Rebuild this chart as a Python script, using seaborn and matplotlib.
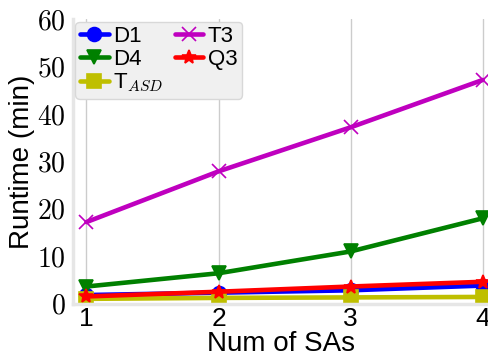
import pandas as pd
import matplotlib
matplotlib.use('Agg')
import matplotlib.pyplot as plt
import seaborn as sns
from matplotlib.ticker import FuncFormatter

# data
num_sas = [1, 2, 3, 4]
d1 = [1.8, 2.3, 2.8, 3.8]
d4 = [3.6, 6.4, 11.0, 18.0]
t_asd = [1.0, 1.2, 1.3, 1.4]
t3 = [17.2, 27.9, 37.2, 47.2]
q3 = [1.5, 2.5, 3.6, 4.6]

series = ['D1', 'D4', 'T$_{ASD}$', 'T3', 'Q3']
values = [d1, d4, t_asd, t3, q3]
colors = ['blue', 'green', 'y', 'm', 'red']
markers = ['o', 'v', 's', 'x', '*']

sns.set_style('whitegrid')
plt.rcParams['font.family'] = ['Liberation Sans', 'DejaVu Sans']
plt.rcParams['mathtext.fontset'] = 'cm'
plt.rcParams['text.color'] = 'black'
plt.rcParams['axes.labelcolor'] = 'black'
plt.rcParams['xtick.color'] = 'black'
plt.rcParams['ytick.color'] = 'black'

rows = []
for name, vals in zip(series, values):
    for x, v in zip(num_sas, vals):
        rows.append({'sas': x, 'runtime': v, 'method': name})
df = pd.DataFrame(rows)

fig = plt.figure(figsize=(4.88, 3.64), dpi=100)
ax = fig.add_axes([0.15, 0.166, 0.85, 0.781])

for name, c, m in zip(series, colors, markers):
    sub = df[df['method'] == name]
    sns.lineplot(data=sub, x='sas', y='runtime', ax=ax, color=c, marker=m,
                 markersize=10, linewidth=3.3, label=name,
                 markeredgecolor=c, markeredgewidth=1.2)

ax.set_xlim(0.9, 4.04)
ax.set_ylim(0, 60)
ax.set_xticks(num_sas)
ax.set_yticks([0, 10, 20, 30, 40, 50, 60])
ax.yaxis.set_major_formatter(FuncFormatter(lambda v, p: '$%d$' % v))
ax.tick_params(axis='x', labelsize=19, pad=-1)
ax.tick_params(axis='y', labelsize=20, pad=2)
ax.grid(axis='y', visible=False)
ax.grid(axis='x', color='#cccccc', linewidth=1)

for s in ['top', 'right']:
    ax.spines[s].set_visible(False)
for s in ['left', 'bottom']:
    ax.spines[s].set_color('#e6e6e6')
    ax.spines[s].set_linewidth(2.5)

ax.set_xlabel('Num of SAs', fontsize=20, labelpad=0)
ax.set_ylabel('Runtime (min)', fontsize=20, labelpad=1)

leg = ax.legend(ncol=2, loc='upper left', fontsize=16, frameon=True,
                handlelength=1.3, handletextpad=0.2, columnspacing=0.5,
                labelspacing=0.1, borderpad=0.2, borderaxespad=0.1,
                fancybox=True)
leg.get_frame().set_facecolor('#f0f0f0')
leg.get_frame().set_edgecolor('#d8d8d8')
leg.get_frame().set_alpha(1)

plt.savefig('out.png', dpi=100)
